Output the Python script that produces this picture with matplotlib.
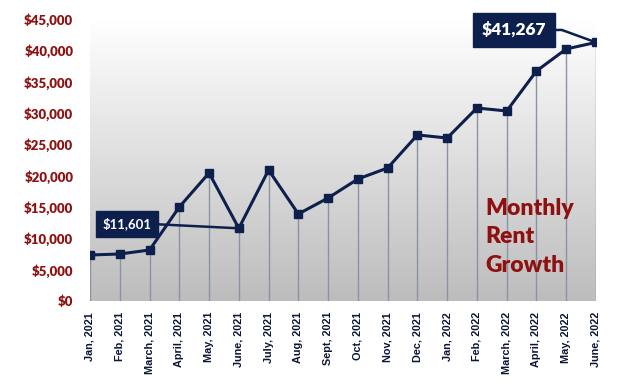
import numpy as np
import matplotlib.pyplot as plt
from matplotlib.ticker import FuncFormatter

months = ['Jan, 2021', 'Feb, 2021', 'March, 2021', 'April, 2021', 'May, 2021',
          'June, 2021', 'July, 2021', 'Aug, 2021', 'Sept, 2021', 'Oct, 2021',
          'Nov, 2021', 'Dec, 2021', 'Jan, 2022', 'Feb, 2022', 'March, 2022',
          'April, 2022', 'May, 2022', 'June, 2022']
rent = [7340, 7500, 8140, 15000, 20430, 11601, 20900, 13890, 16440, 19470,
        21230, 26500, 26010, 30800, 30320, 36700, 40220, 41267]
y_ticks = list(range(0, 45001, 5000))

navy = '#0d1f4c'
dark_red = '#8f1010'

fig = plt.figure(figsize=(6.4, 3.91), dpi=100)
ax = fig.add_axes([90 / 640, 1 - 301 / 391, 506 / 640, 282 / 391])

x = np.arange(len(rent))
ax.set_xlim(0, len(rent) - 1)
ax.set_ylim(0, 45000)

# background gradient: white on top, grey at the bottom
grad = np.linspace(1.0, 0.74, 256).reshape(-1, 1)
ax.imshow(np.dstack([grad, grad, grad]), extent=[0, len(rent) - 1, 0, 45000],
          aspect='auto', zorder=0, interpolation='bilinear')

ax.vlines(x, 0, rent, color='#8a93a3', lw=1, zorder=1)
ax.plot(x, rent, color=navy, lw=2.2, marker='s', ms=6, zorder=3)

for s in ax.spines.values():
    s.set_visible(False)

ax.set_yticks(y_ticks)
ax.yaxis.set_major_formatter(FuncFormatter(lambda v, p: '${:,.0f}'.format(v)))
ax.tick_params(axis='y', length=0, pad=12, labelsize=9.5, labelcolor=dark_red)
for t in ax.get_yticklabels():
    t.set_fontweight('heavy')
    t.set_family(['Lato', 'DejaVu Sans'])

ax.set_xticks(x)
ax.set_xticklabels(months, rotation=90, fontsize=7.8, fontweight='bold',
                   color='#0b1633', family=['Liberation Sans Narrow', 'Liberation Sans'])
ax.tick_params(axis='x', length=0, pad=8)

box = dict(boxstyle='square,pad=0.5', fc=navy, ec=navy)
ax.annotate('$11,601', xy=(5, rent[5]), xytext=(1.24, 12290), ha='center', va='center',
            color='white', fontsize=9.5, fontweight='bold', family=['Lato', 'DejaVu Sans'],
            bbox=box, zorder=5,
            arrowprops=dict(arrowstyle='-', color=navy, lw=1.8, relpos=(1, 0.5),
                            shrinkA=0, shrinkB=0))
ax.annotate('$41,267', xy=(17, rent[17]), xytext=(14.25, 43250), ha='center', va='center',
            color='white', fontsize=12.5, fontweight='heavy', family=['Lato', 'DejaVu Sans'],
            bbox=dict(boxstyle='square,pad=0.5', fc=navy, ec=navy), zorder=5,
            arrowprops=dict(arrowstyle='-', color=navy, lw=1.8, relpos=(1, 0.5),
                            shrinkA=0, shrinkB=0,
                            connectionstyle='angle,angleA=0,angleB=160,rad=0'),
            annotation_clip=False)

ax.text(13.28, 16500, 'Monthly\nRent\nGrowth', ha='left', va='top', color=dark_red,
        fontsize=16.5, fontweight='heavy', family=['Lato', 'DejaVu Sans'], linespacing=1.45)

fig.savefig('out.png', dpi=100)
